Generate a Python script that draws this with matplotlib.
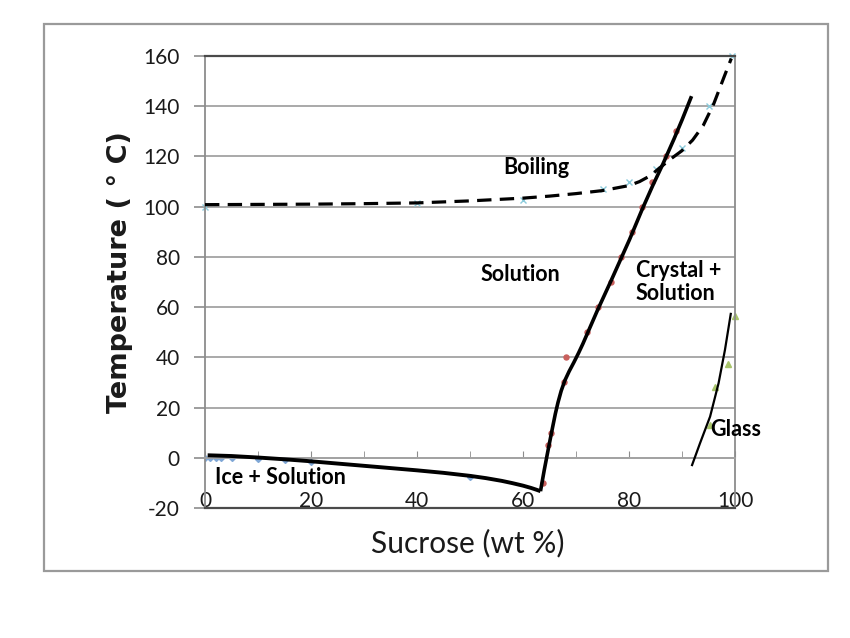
import matplotlib
matplotlib.use("Agg")
import matplotlib.pyplot as plt
from matplotlib.patches import Rectangle

# ---------------- data ----------------
boil_x = [0, 10, 20, 30, 40, 50, 60, 65, 70, 75, 78, 80, 82, 84, 86, 88, 90, 92, 94, 96, 98, 99.3]
boil_y = [100.8, 100.9, 101.0, 101.2, 101.5, 102.3, 103.4, 104.2, 105.2, 106.4, 107.6, 108.4,
          110.0, 112.3, 115.8, 119.2, 122.3, 126.5, 132.3, 141.0, 152.0, 159.0]

boil_pts_x = [0, 40, 60, 75, 80, 85, 90, 95, 99.5]
boil_pts_y = [100, 101.5, 102.5, 107, 110, 115, 123.5, 140, 160]

sol_x = [63.3, 64.0, 64.6, 65.1, 65.6, 66.1, 66.6, 67.2, 67.9, 68.7, 69.6, 70.5, 71.3, 74.0,
         76.7, 80.1, 82.5, 84.5, 86.4, 88.5, 90.0, 91.8]
sol_y = [-13.3, -5.0, 1.6, 7.0, 12.3, 17.5, 22.0, 26.6, 30.8, 34.4, 38.0, 41.8, 45.4, 58.5,
         70.9, 86.9, 99.0, 108.5, 117.0, 127.0, 134.5, 144.0]

sol_pts_x = [63.7, 64.7, 65.2, 68.2, 67.8, 72.1, 74.1, 76.6, 78.5, 80.5, 82.5, 84.4, 86.9, 88.9]
sol_pts_y = [-10, 5, 10, 40, 30, 50, 60, 70, 80, 90, 100, 110, 120, 130]

ice_x = [0.5, 5, 10, 15, 20, 25, 30, 35, 40, 45, 50, 53, 56, 58, 60, 61.5, 62.5, 63.3]
ice_y = [1.0, 0.7, 0.1, -0.6, -1.4, -2.3, -3.2, -4.1, -5.0, -6.0, -7.2, -8.1, -9.2, -10.1, -11.1, -12.0, -12.7, -13.3]

ice_pts_x = [0, 1, 2, 3, 5, 10, 15, 20, 50]
ice_pts_y = [0, 0, 0, 0, 0, -0.3, -0.8, -1.5, -7.5]

glass_x = [91.9, 93.4, 95.3, 96.9, 98.1, 99.2]
glass_y = [-2.9, 5.8, 16.4, 29.7, 42.9, 57.3]

glass_pts_x = [95.2, 96.2, 98.6, 100]
glass_pts_y = [13, 28.3, 37.4, 56.6]

x_major = [0, 20, 40, 60, 80, 100]
x_minor = [10, 30, 50, 70, 90]
y_ticks = [-20, 0, 20, 40, 60, 80, 100, 120, 140, 160]

labels = ["Boiling", "Solution", "Crystal +\nSolution", "Glass", "Ice + Solution"]
label_x = [62.6, 59.6, 81.3, 95.3, 1.9]
label_y = [115.4, 72.8, 70.0, 11.1, -8.0]
label_ha = ["center", "center", "left", "left", "left"]

# ---------------- figure ----------------
plt.rcParams['font.family'] = ['Lato', 'DejaVu Sans']
plt.rcParams['axes.unicode_minus'] = False

fig = plt.figure(figsize=(8.5, 6.38), dpi=100)
fig.patch.set_facecolor('white')
fig.patches.append(Rectangle((44 / 850, 1 - 571 / 638), (828 - 44) / 850, (571 - 24) / 638,
                             transform=fig.transFigure, fill=False, ec='#9a9a9a', lw=1.6))

ax = fig.add_axes([205 / 850, 1 - 508 / 638, 530 / 850, 452 / 638])
ax.set_xlim(x_major[0], x_major[-1])
ax.set_ylim(y_ticks[0], y_ticks[-1])

ax.set_yticks(y_ticks)
ax.set_xticks(x_major)
ax.set_xticks(x_minor, minor=True)
ax.yaxis.grid(True, color='#a3a3a3', lw=1.3)
ax.set_axisbelow(True)

# spines
ax.spines['bottom'].set_position(('data', 0))
ax.spines['bottom'].set_color('#a3a3a3')
ax.spines['bottom'].set_linewidth(1.3)
ax.spines['left'].set_color('#8c8c8c')
ax.spines['left'].set_linewidth(1.3)
ax.spines['right'].set_color('#8c8c8c')
ax.spines['right'].set_linewidth(1.3)
ax.spines['top'].set_color('#4a4a4a')
ax.spines['top'].set_linewidth(1.6)
ax.axhline(y_ticks[0], color='#4a4a4a', lw=1.6, clip_on=False, zorder=5)

ax.tick_params(axis='x', which='both', direction='in', length=5, color='#8c8c8c',
               pad=24, labelsize=15, labelcolor='#1a1a1a')
ax.tick_params(axis='y', direction='out', length=8, color='#8c8c8c', width=1.2,
               pad=10, labelsize=15, labelcolor='#1a1a1a')

# markers (faint Excel-style series markers)
ax.plot(ice_pts_x, ice_pts_y, linestyle='none', marker='D', ms=3, color='#7fa7d6', zorder=2)
ax.plot(boil_pts_x, boil_pts_y, linestyle='none', marker='x', ms=4, mew=1, color='#8ccbdc',
        zorder=2, clip_on=False)
ax.plot(sol_pts_x, sol_pts_y, linestyle='none', marker='o', ms=3.6, color='#c9605d', zorder=2)
ax.plot(glass_pts_x, glass_pts_y, linestyle='none', marker='^', ms=4.5, color='#a8c46a',
        zorder=2, clip_on=False)

# curves
ax.plot(boil_x, boil_y, color='black', lw=2.3, linestyle=(0, (4.5, 2.6)), zorder=3)
ax.plot(sol_x, sol_y, color='black', lw=2.6, zorder=3, solid_capstyle='butt')
ax.plot(ice_x, ice_y, color='black', lw=2.8, zorder=3, solid_capstyle='butt')
ax.plot(glass_x, glass_y, color='black', lw=1.6, zorder=3)

for t, x, y, ha in zip(labels, label_x, label_y, label_ha):
    ax.text(x, y, t, ha=ha, va='center', fontsize=15.5, fontweight='bold',
            family=['Lato', 'DejaVu Sans'], color='black', linespacing=1.15, zorder=4)

ax.set_xlabel('Sucrose (wt %)', fontsize=21.5, va='center', color='#1a1a1a')
ax.xaxis.set_label_coords(0.496, -0.077)
ax.set_ylabel('Temperature ( ° C)', fontsize=19.5, fontweight='bold',
              family=['DejaVu Sans'], va='center', color='#1a1a1a')
ax.yaxis.set_label_coords(-0.160, 0.521)

fig.savefig('out.png', dpi=100, facecolor='white')
